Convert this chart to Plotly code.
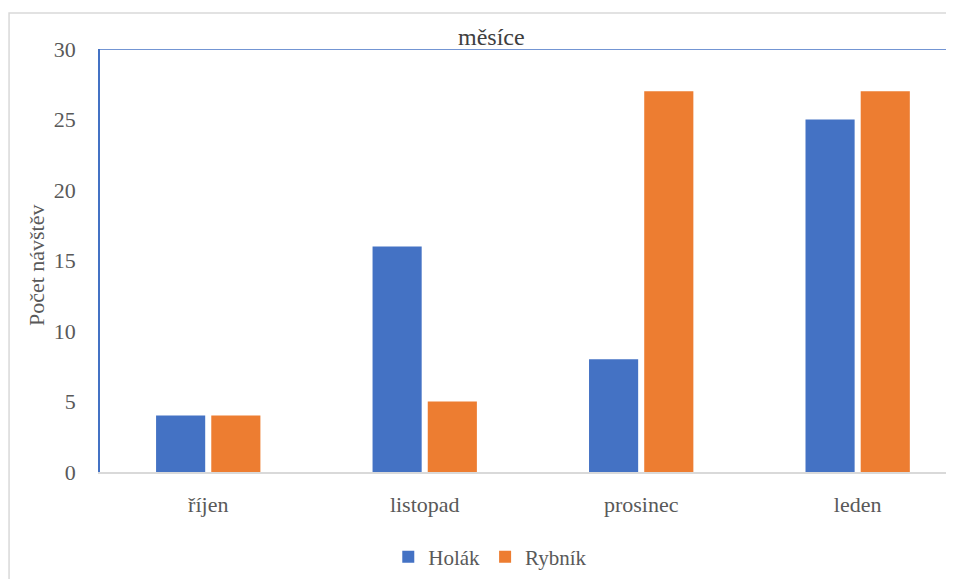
import plotly.graph_objects as go

categories = ["říjen", "listopad", "prosinec", "leden"]
holak = [4, 16, 8, 25]
rybnik = [4, 5, 27, 27]
series_names = ["Holák", "Rybník"]
y_ticks = [0, 5, 10, 15, 20, 25, 30]

BLUE = "#4472C4"
ORANGE = "#ED7D31"
FONT = "Liberation Serif, Times New Roman, serif"
GRAY_TXT = "#595959"

fig = go.Figure()
fig.add_trace(go.Bar(x=categories, y=holak, name=series_names[0], marker=dict(color=BLUE, line=dict(width=0))))
fig.add_trace(go.Bar(x=categories, y=rybnik, name=series_names[1], marker=dict(color=ORANGE, line=dict(width=0))))

fig.update_layout(
    width=946, height=571,
    margin=dict(l=92, r=0, t=41, b=107),
    paper_bgcolor="white", plot_bgcolor="white",
    barmode="group", bargap=0.49, bargroupgap=0.11,
    font=dict(family=FONT, color=GRAY_TXT, size=20),
    showlegend=True,
    legend=dict(orientation="h", x=0.457, xanchor="center", y=-0.201, yanchor="middle",
                font=dict(family=FONT, size=21, color=GRAY_TXT), itemwidth=30, traceorder="normal",
                bgcolor="rgba(0,0,0,0)"),
    xaxis=dict(type="category", range=[-0.5, 3.445], showgrid=False, zeroline=False,
               showline=True, linecolor="#D9D9D9", linewidth=1.5, ticks="",
               ticklabelstandoff=12, tickfont=dict(family=FONT, size=22, color=GRAY_TXT)),
    yaxis=dict(range=[0, 30], tickvals=y_ticks, showgrid=False, zeroline=False,
               showline=True, linecolor=BLUE, linewidth=1.5, ticks="",
               ticklabelstandoff=18, tickfont=dict(family=FONT, size=22, color=GRAY_TXT)),
    shapes=[
        dict(type="line", xref="paper", yref="y", x0=0, x1=1, y0=30, y1=30,
             line=dict(color=BLUE, width=1.5)),
        dict(type="rect", xref="paper", yref="paper", x0=-0.1065, x1=1.05, y0=-0.6, y1=1.0851,
             line=dict(color="#D9D9D9", width=1.5), layer="below"),
    ],
    annotations=[
        dict(text="měsíce", xref="paper", yref="paper", x=0.458, y=1.028, xanchor="center", yanchor="middle",
             showarrow=False, font=dict(family=FONT, size=24, color="#404040")),
        dict(text="Počet návštěv", xref="paper", yref="paper", x=-0.075, y=0.489, xanchor="center", yanchor="middle",
             textangle=-90, showarrow=False, font=dict(family=FONT, size=22, color=GRAY_TXT)),
    ],
)

fig.write_html("out.html", default_width="946px", default_height="571px")
